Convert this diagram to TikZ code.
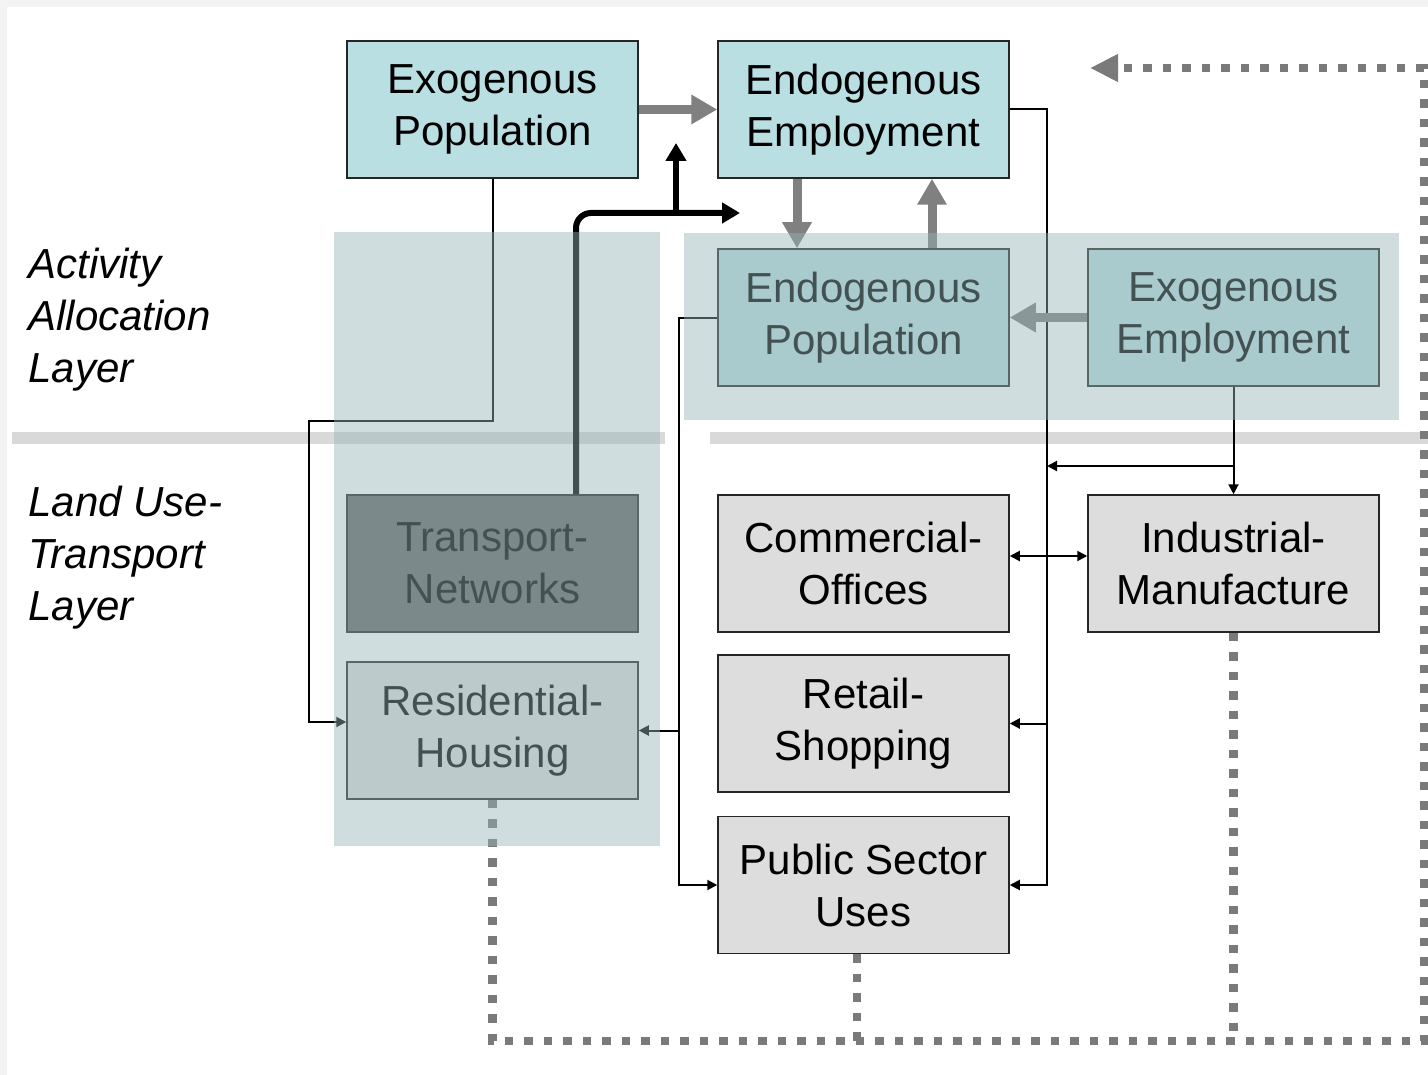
\documentclass[tikz,border=0pt]{standalone}
\usepackage{fontspec}
\setmainfont{Liberation Sans}
\usepackage{xcolor}
\usetikzlibrary{arrows.meta, calc}

\definecolor{popcyan}{HTML}{B9DFE3}
\definecolor{landgray}{HTML}{DDDDDD}
\definecolor{netgray}{HTML}{666666}
\definecolor{edgegray}{HTML}{262626}
\definecolor{arrowgray}{HTML}{808080}
\definecolor{dotgray}{HTML}{7A7A7A}
\definecolor{sepgray}{HTML}{D9D9D9}
\definecolor{framegray}{HTML}{F3F3F3}
\definecolor{veilcol}{RGB}{150,180,182}

\begin{document}
\begin{tikzpicture}[x=0.5pt, y=-0.5pt,
        box/.style={draw=edgegray, line width=0.75pt, minimum width=145.5pt,
            minimum height=68.5pt, inner sep=0pt, align=center,
            font=\fontsize{21}{26}\selectfont},
        layer/.style={anchor=west, inner sep=0pt, align=left,
            font=\fontsize{21}{26}\selectfont\itshape},
        link/.style={line width=1pt, -{Triangle[length=5pt, width=5pt]}},
        fat/.style={draw=arrowgray, line width=4.5pt, -{Triangle[length=13pt, width=14pt]}},
        heavy/.style={line width=3pt, -{Triangle[length=9pt, width=10pt]}},
        feedback/.style={draw=dotgray, line width=4.25pt, dash pattern=on 4.25pt off 5.5pt},
        veil/.style={fill=veilcol, fill opacity=0.45}]
    \fill[framegray] (0, 0) rectangle (1428, 1075);
    \fill[white] (7, 7) rectangle (1428, 1075);
    \useasboundingbox (0, 0) rectangle (1428, 1075);

    \draw[sepgray, line width=6pt]
        (12, 438) -- (665, 438)
        (710, 438) -- (1428, 438);

    \node[box, fill=popcyan] (exopop) at (492.5, 109.5) {Exogenous\\Population};
    \node[box, fill=popcyan] (endoemp) at (863.5, 109.5) {Endogenous\\Employment};
    \node[box, fill=popcyan] (endopop) at (863.5, 317.5) {Endogenous\\Population};
    \node[box, fill=popcyan] (exoemp) at (1233.5, 317.5) {Exogenous\\Employment};
    \node[box, fill=netgray] (transport) at (492.5, 563.5) {Transport-\\Networks};
    \node[box, fill=landgray] (residential) at (492.5, 730.5) {Residential-\\Housing};
    \node[box, fill=landgray] (commercial) at (863.5, 563.5) {Commercial-\\Offices};
    \node[box, fill=landgray] (retail) at (863.5, 723.5) {Retail-\\Shopping};
    \node[box, fill=landgray] (public) at (863.5, 885) {Public Sector\\Uses};
    \node[box, fill=landgray] (industrial) at (1233.5, 563.5) {Industrial-\\Manufacture};

    \node[layer] (activity) at (28, 320) {Activity\\Allocation\\Layer};
    \node[layer] (landuse) at (28, 558) {Land Use-\\Transport\\Layer};

    \coordinate (popturn) at (309, 421);
    \coordinate (empbus) at (1047, 0);
    \coordinate (popbus) at (679, 0);
    \coordinate (indsplit) at (1233.5, 466);
    \coordinate (netjoin) at (676, 213);
    \coordinate (netup) at (676, 143);
    \coordinate (netright) at (740, 213);
    \coordinate (loopcorner) at (1424, 1041);
    \coordinate (loopend) at (1090, 68);

    \draw[link] (exopop.south) |- (popturn) |- ([yshift=4.25pt]residential.west);
    \draw[link] (endoemp.east) -| (empbus |- public.east) -- (public.east);
    \draw[link] (empbus |- retail.east) -- (retail.east);
    \draw[link, {Triangle[length=5pt, width=5pt]}-{Triangle[length=5pt, width=5pt]}]
        ([yshift=3.75pt]commercial.east) -- ([yshift=3.75pt]industrial.west);
    \draw[link] (exoemp.south) -- (industrial.north);
    \draw[link] (indsplit) -- (empbus |- indsplit);
    \draw[link] (endopop.west) -| (popbus |- public.west) -- (public.west);
    \draw[link] (popbus |- residential.east) -- (residential.east);

    \draw[heavy, rounded corners=7.5pt] ([xshift=41.75pt]transport.north) |- (netright);
    \draw[heavy] (netjoin) -- (netup);

    \draw[fat] (exopop.east) -- (endoemp.west);
    \draw[fat] ([xshift=-33.25pt]endoemp.south) -- ([xshift=-33.25pt]endopop.north);
    \draw[fat] ([xshift=34.25pt]endopop.north) -- ([xshift=34.25pt]endoemp.south);
    \draw[fat] (exoemp.west) -- (endopop.east);

    \draw[feedback, -{Triangle[length=14pt, width=13pt]}]
        (residential.south) |- (loopcorner) |- (loopend);
    \draw[feedback] ([xshift=-3.25pt]public.south) -- ([xshift=-3.25pt]public.south |- loopcorner);
    \draw[feedback] (industrial.south) -- (industrial.south |- loopcorner);

    \fill[veil] (334, 232) rectangle (660, 846);
    \fill[veil] (684, 233) rectangle (1399, 420);
\end{tikzpicture}
\end{document}
